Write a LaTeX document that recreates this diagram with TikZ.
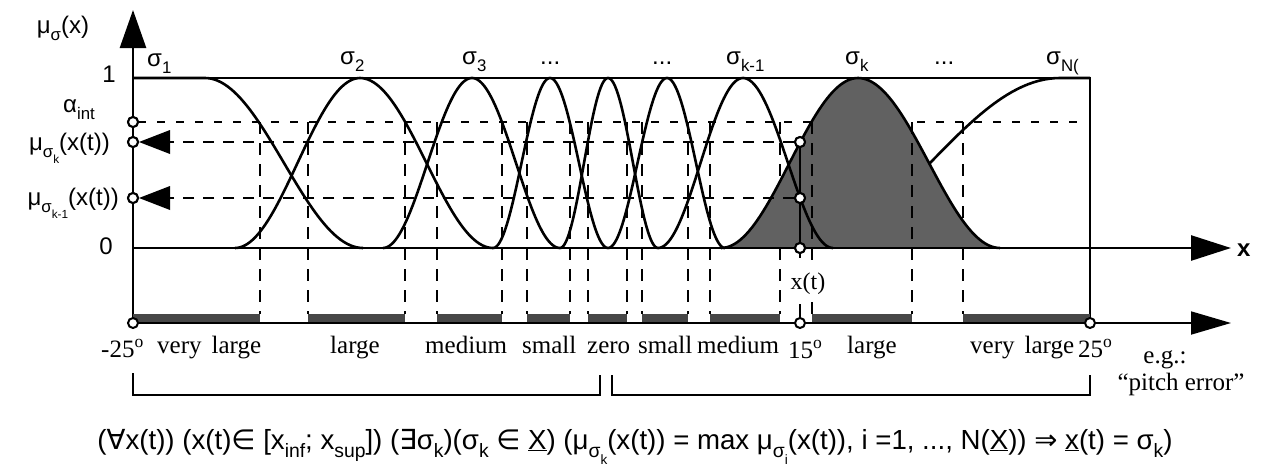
\documentclass[tikz,border=0pt]{standalone}
\usepackage{fontspec}
\usepackage{graphicx}
\setmainfont{Liberation Serif}
\newfontfamily\sansf{Liberation Sans}
\newfontfamily\dvf{DejaVu Sans}
\usetikzlibrary{arrows.meta}
\newcommand\lsub[1]{\raisebox{-0.32em}{\scalebox{0.7}{#1}}}
\tikzset{
  curve/.style={line width=2.6pt, line join=round},
  axisline/.style={line width=2.6pt},
  thinline/.style={line width=1.8pt},
  dashbig/.style={line width=2.3pt, dash pattern=on 11pt off 9pt},
  dashthin/.style={line width=1.4pt, dash pattern=on 8pt off 11pt},
  vdash/.style={line width=2pt, dash pattern=on 12pt off 9pt},
  circ/.style={circle, draw, line width=2pt, fill=white, inner sep=0pt, minimum size=10pt},
  lbl/.style={font=\sansf\fontsize{24}{28}\selectfont, inner sep=0pt},
  slbl/.style={font=\fontsize{25}{29}\selectfont, inner sep=0pt},
  bar/.style={fill=black!72},
  shadefill/.style={fill=black!62},
  bigtip/.style={-{Triangle[length=40pt,width=25pt]}},
  bell/.style n args={3}{insert path={
    plot[domain=#1:#2,samples=50] (\x,{248-85*(1-cos(180/(#2-#1)*(\x-#1)))})
    -- plot[domain=#2:#3,samples=50] (\x,{248-85*(1+cos(180/(#3-#2)*(\x-#2)))})}},
}
\begin{document}
\begin{tikzpicture}[x=1pt,y=-1pt]
\useasboundingbox (0,0) rectangle (1265,472);
\fill[white] (0,0) rectangle (1265,472);

% frame lines
\draw[thinline] (133,78) -- (1090,78) -- (1090,323);

% alpha_int dashed line
\coordinate (aend) at (1078,122);
\draw[dashthin] (138,122) -- (aend);

% vertical dashed lines (alpha cuts)
\foreach \v in {260,308,405,437,502,527,570,588,627,642,688,710,780,963}
  \draw[vdash] (\v,122) -- (\v,314);

% sigma_N (partly hidden under shading)
\draw[curve] plot[domain=800:1060,samples=50] (\x,{248-85*(1-cos(180/260*(\x-800)))}) -- (1090,78);

% shaded sigma_k
\fill[shadefill, bell={721}{858}{1000}] -- cycle;
\draw[vdash] (912,122) -- (912,314);
\draw[vdash] (812,122) -- (812,262);
\draw[vdash] (812,302) -- (812,314);

% membership functions
\draw[curve] (133,78) -- (205,78) -- plot[domain=205:363,samples=50] (\x,{248-85*(1+cos(180/158*(\x-205)))});
\draw[curve, bell={235}{360}{493}];
\draw[curve, bell={383}{472}{560}];
\draw[curve, bell={493}{550}{608}];
\draw[curve, bell={560}{608}{658}];
\draw[curve, bell={608}{667}{725}];
\draw[curve, bell={658}{743}{833}];
\draw[curve, bell={721}{858}{1000}];

% axes
\draw[axisline, bigtip] (133,248) -- (1231,248);
\draw[axisline, -{Triangle[length=38pt,width=26pt]}] (133,323) -- (133,10);

% bottom axis with bars
\foreach \a/\b in {133/260,308/405,437/502,527/570,588/627,642/688,710/780,812/912,963/1090}
  \fill[bar] (\a,314) rectangle (\b,322);
\draw[thinline, -{Triangle[length=40pt,width=23pt]}] (133,323) -- (1231,323);

% circles
\node[circ] (ya) at (133,122) {};
\node[circ] (yk) at (133,142) {};
\node[circ] (yk1) at (133,198) {};
\node[circ] (xk) at (800,142) {};
\node[circ] (xk1) at (800,198) {};
\node[circ] (x0) at (800,248) {};
\node[circ] (bl) at (133,323) {};
\node[circ] (bm) at (800,323) {};
\node[circ] (br) at (1090,323) {};

% x(t) line and label
\node[font=\fontsize{24}{28}\selectfont, inner sep=0pt, anchor=base] (xt) at (808,289) {x(t)};
\coordinate (xtu) at (800,258);
\coordinate (xtd) at (800,304);
\draw[thinline] (xk) -- (xk1) -- (x0);
\draw[thinline] (x0) -- (xtu);
\draw[thinline] (xtd) -- (bm);

% mu arrows
\draw[dashbig] (xk) -- (170,142);
\draw[dashbig] (xk1) -- (170,198);
\fill (yk.east) -- (170,130) -- (170,154) -- cycle;
\fill (yk1.east) -- (170,186) -- (170,210) -- cycle;

% re-draw circles on top
\node[circ] at (133,122) {};
\node[circ] at (133,142) {};
\node[circ] at (133,198) {};
\node[circ] at (800,142) {};
\node[circ] at (800,198) {};
\node[circ] at (800,248) {};

% left labels
\node[lbl, anchor=base] (ylab) at (63,33) {μ\lsub{σ}(x)};
\node[lbl, anchor=base east] (one) at (116,82) {1};
\node[lbl, anchor=base west] (alab) at (63,112) {α\lsub{int}};
\node[lbl, anchor=base east] (muk) at (110,150) {μ\lsub{σ\lsub{k}}(x(t))};
\node[lbl, anchor=base east] (muk1) at (119,205) {μ\lsub{σ\lsub{k-1}}(x(t))};
\node[lbl, anchor=base east] (zero) at (113,254) {0};
\node[lbl, anchor=base west, font=\sansf\bfseries\fontsize{24}{28}\selectfont] (xlab) at (1237,256) {x};

% sigma labels
\node[lbl, anchor=base west] (s1) at (147,66) {σ\lsub{1}};
\node[lbl, anchor=base west] (s2) at (340,64) {σ\lsub{2}};
\node[lbl, anchor=base west] (s3) at (462,64) {σ\lsub{3}};
\node[lbl, anchor=base west] (d1) at (540,64) {...};
\node[lbl, anchor=base west] (d2) at (652,64) {...};
\node[lbl, anchor=base west] (skm) at (726,64) {σ\lsub{k-1}};
\node[lbl, anchor=base west] (sk) at (845,64) {σ\lsub{k}};
\node[lbl, anchor=base west] (d3) at (934,64) {...};
\node[lbl, anchor=base west] (sN) at (1046,64) {σ\lsub{N(}};

% bottom labels
\node[slbl, anchor=base west] (m25) at (101,357) {-25\textsuperscript{o}};
\node[slbl, anchor=base west] (vl1) at (157,353) {very\hspace{0.4em}large};
\node[slbl, anchor=base west] (l1) at (330,353) {large};
\node[slbl, anchor=base west] (me1) at (425,353) {medium};
\node[slbl, anchor=base west] (sm1) at (522,353) {small};
\node[slbl, anchor=base west] (ze) at (587,353) {zero};
\node[slbl, anchor=base west] (sm2) at (638,353) {small};
\node[slbl, anchor=base west] (me2) at (697,353) {medium};
\node[slbl, anchor=base west] (p15) at (788,358) {15\textsuperscript{o}};
\node[slbl, anchor=base west] (l2) at (847,353) {large};
\node[slbl, anchor=base west] (vl2) at (970,353) {very\hspace{0.4em}large};
\node[slbl, anchor=base west] (p25) at (1078,357) {25\textsuperscript{o}};
\node[slbl, anchor=base] (eg) at (1165,363) {e.g.:};
\node[slbl, anchor=base] (pe) at (1181,390) {“pitch error”};

% brackets
\draw[axisline] (133,373) -- (133,395) -- (600,395) -- (600,375);
\draw[axisline] (612,375) -- (612,395) -- (1090,395) -- (1090,375);

% formula
\node[lbl, anchor=base] (form) at (635,449) {\resizebox{1075pt}{!}{({\dvf ∀}x(t)) (x(t){\dvf ∈} [x\lsub{inf}; x\lsub{sup}]) ({\dvf ∃}σ\lsub{k})(σ\lsub{k} {\dvf ∈} \underline{X}) (μ\lsub{σ\lsub{k}}(x(t)) = max μ\lsub{σ\lsub{i}}(x(t)), i =1, ..., N(\underline{X})) {\dvf ⇒} \underline{x}(t) = σ\lsub{k})}};
\end{tikzpicture}
\end{document}
